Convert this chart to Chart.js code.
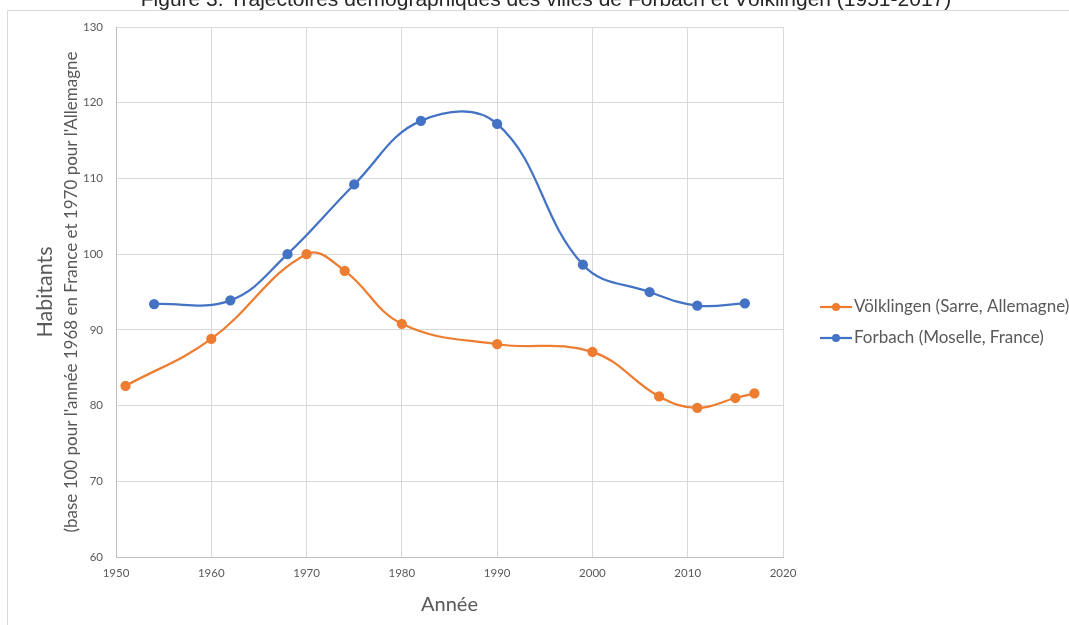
<!DOCTYPE html>
<html>
<head>
<meta charset="utf-8">
<script src="https://cdn.jsdelivr.net/npm/chart.js@4/dist/chart.umd.min.js"></script>
<style>
html,body{margin:0;padding:0;background:#fff;}
#wrap{position:relative;width:1069px;height:625px;}
</style>
</head>
<body>
<div id="wrap"><canvas id="c" width="1069" height="625"></canvas></div>
<script>
const titleText = "Figure 3. Trajectoires démographiques des villes de Forbach et Völklingen (1951-2017)";
const xTitle = "Année";
const yTitle1 = "Habitants";
const yTitle2 = "(base 100 pour l'année 1968 en France et 1970 pour l'Allemagne";

const seriesNames = ["Völklingen (Sarre, Allemagne)", "Forbach (Moselle, France)"];

const volkYears  = [1951, 1960, 1970, 1974, 1980, 1990, 2000, 2007, 2011, 2015, 2017];
const volkValues = [82.6, 88.8, 100.0, 97.8, 90.8, 88.1, 87.1, 81.2, 79.7, 81.0, 81.6];

const forbYears  = [1954, 1962, 1968, 1975, 1982, 1990, 1999, 2006, 2011, 2016];
const forbValues = [93.4, 93.9, 100.0, 109.2, 117.6, 117.2, 98.6, 95.0, 93.2, 93.5];

const xTicksMin = 1950, xTicksMax = 2020, xStep = 10;
const yTicksMin = 60, yTicksMax = 130, yStep = 10;

const colors = ["#ed7d31", "#4472c4"];

function toPoints(xs, ys){ return xs.map((x,i)=>({x:x, y:ys[i]})); }

const decor = {
  id: 'decor',
  beforeDraw(chart){
    const ctx = chart.ctx;
    ctx.save();
    ctx.fillStyle = '#fff';
    ctx.fillRect(0,0,chart.width,chart.height);
    ctx.strokeStyle = '#d9d9d9';
    ctx.lineWidth = 1;
    ctx.beginPath();
    ctx.moveTo(7.5, chart.height);
    ctx.lineTo(7.5, 10.5);
    ctx.lineTo(chart.width, 10.5);
    ctx.stroke();
    ctx.restore();
  },
  afterDraw(chart){
    const ctx = chart.ctx;
    const ca = chart.chartArea;
    ctx.save();
    // title
    ctx.fillStyle = '#262626';
    ctx.font = '21px "Liberation Sans", Arial, sans-serif';
    ctx.textAlign = 'center';
    ctx.textBaseline = 'alphabetic';
    ctx.fillText(titleText, 546, 6);
    // x title
    ctx.fillStyle = '#595959';
    ctx.font = '20px Lato, sans-serif';
    ctx.textBaseline = 'middle';
    ctx.fillText(xTitle, (ca.left+ca.right)/2, 605);
    // y titles
    const cy = (ca.top+ca.bottom)/2;
    ctx.save();
    ctx.translate(45, cy);
    ctx.rotate(-Math.PI/2);
    ctx.font = '21.5px Lato, sans-serif';
    ctx.fillText(yTitle1, 0, 0);
    ctx.restore();
    ctx.save();
    ctx.translate(72, cy);
    ctx.rotate(-Math.PI/2);
    ctx.font = '17px Lato, sans-serif';
    ctx.fillText(yTitle2, 0, 0);
    ctx.restore();
    // legend
    const ly = [307, 338];
    chart.data.datasets.forEach((ds, i) => {
      const y = ly[i];
      ctx.strokeStyle = ds.borderColor;
      ctx.lineWidth = 2.25;
      ctx.beginPath();
      ctx.moveTo(820, y);
      ctx.lineTo(852, y);
      ctx.stroke();
      ctx.fillStyle = ds.borderColor;
      ctx.beginPath();
      ctx.arc(836, y, 4, 0, Math.PI*2);
      ctx.fill();
      ctx.fillStyle = '#595959';
      ctx.font = '17px Lato, sans-serif';
      ctx.textAlign = 'left';
      ctx.textBaseline = 'middle';
      ctx.fillText(ds.label, 854, y);
    });
    ctx.restore();
  }
};

function build(){
  new Chart(document.getElementById('c'), {
    type: 'line',
    data: {
      datasets: [
        { label: seriesNames[0], data: toPoints(volkYears, volkValues), borderColor: colors[0], backgroundColor: colors[0],
          pointBackgroundColor: colors[0], pointBorderColor: colors[0], borderWidth: 2.25, pointRadius: 4, tension: 0.4, fill: false },
        { label: seriesNames[1], data: toPoints(forbYears, forbValues), borderColor: colors[1], backgroundColor: colors[1],
          pointBackgroundColor: colors[1], pointBorderColor: colors[1], borderWidth: 2.25, pointRadius: 4, tension: 0.4, fill: false }
      ]
    },
    options: {
      responsive: false,
      animation: false,
      devicePixelRatio: 1,
      layout: { padding: { left: 10, top: 27, right: 286, bottom: 0 } },
      plugins: { legend: { display: false }, title: { display: false }, tooltip: { enabled: false } },
      scales: {
        x: {
          type: 'linear', min: xTicksMin, max: xTicksMax,
          afterFit(scale){ scale.height = 68; },
          ticks: { stepSize: xStep, color: '#595959', font: { family: 'Lato', size: 11.5 }, padding: 9,
                   callback: v => String(v) },
          grid: { color: '#d9d9d9', lineWidth: 1, drawTicks: false, tickLength: 0 },
          border: { color: '#bfbfbf', width: 1 }
        },
        y: {
          min: yTicksMin, max: yTicksMax,
          afterFit(scale){ scale.width = 106; },
          ticks: { stepSize: yStep, color: '#595959', font: { family: 'Lato', size: 11.5 }, padding: 13 },
          grid: { color: '#d9d9d9', lineWidth: 1, drawTicks: false, tickLength: 0 },
          border: { color: '#bfbfbf', width: 1 }
        }
      }
    },
    plugins: [decor]
  });
}
if (document.fonts && document.fonts.load) {
  Promise.all([document.fonts.load('15px Lato'), document.fonts.load('17px "Liberation Sans"')]).then(build, build);
} else build();
</script>
</body>
</html>
